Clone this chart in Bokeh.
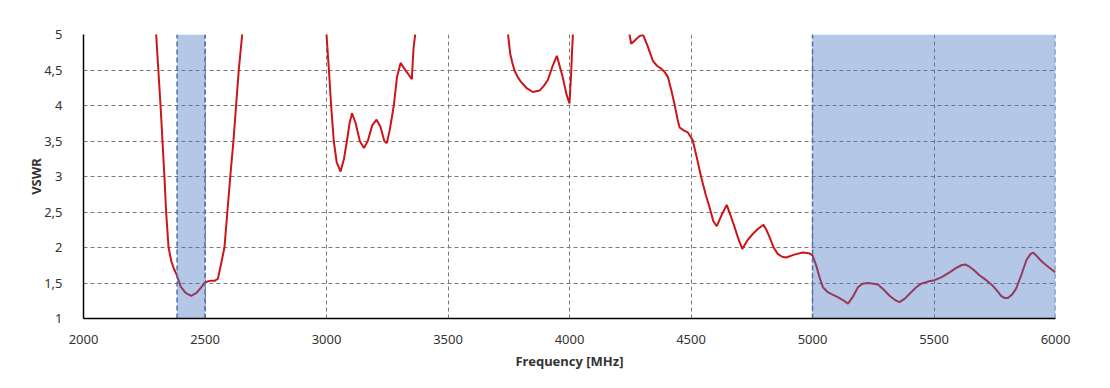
import math
from bokeh.plotting import figure
from bokeh.models import FixedTicker
from bokeh.embed import file_html
from bokeh.resources import INLINE

NaN = float("nan")

# Frequency (MHz) / VSWR; NaN separates parts above the plotted range
freq = [
    2295, 2299, 2308, 2317, 2325, 2333, 2340, 2350, 2362, 2372, 2383, 2400, 2420, 2443, 2465, 2485,
    2500, 2520, 2540, 2553, 2565, 2580, 2592, 2604, 2617, 2628, 2639, 2653, 2657, NaN,
    2998, 3000, 3010, 3019, 3030, 3042, 3058, 3072, 3084, 3095, 3105, 3120, 3137, 3154, 3170, 3188,
    3206, 3222, 3238, 3248, 3260, 3277, 3290, 3305, 3320, 3335, 3351, 3358, 3365, 3368, NaN,
    3744, 3747, 3752, 3756, 3765, 3774, 3787, 3801, 3825, 3849, 3877, 3895, 3911, 3930, 3948, 3960,
    3972, 3988, 4000, 4006, 4011, 4014, 4015, NaN,
    4245, 4247, 4254, 4270, 4285, 4302, 4320, 4343, 4360, 4377, 4392, 4405, 4420, 4432, 4445, 4453,
    4470, 4487, 4500, 4507, 4525, 4542, 4560, 4576, 4592, 4606, 4625, 4647, 4663, 4679, 4695, 4711,
    4732, 4754, 4775, 4798, 4810, 4823, 4840, 4857, 4875, 4892, 4925, 4960, 4985, 5000, 5015, 5029,
    5043, 5063, 5080, 5104, 5125, 5146, 5165, 5187, 5205, 5228, 5250, 5269, 5295, 5317, 5340, 5358,
    5380, 5406, 5427, 5447, 5475, 5502, 5530, 5564, 5590, 5612, 5630, 5646, 5665, 5687, 5715, 5742,
    5760, 5776, 5790, 5804, 5822, 5838, 5860, 5880, 5895, 5907, 5920, 5928, 5945, 5962, 5980, 6000,
]
vswr = [
    5.2, 5.0, 4.5, 4.0, 3.5, 3.0, 2.5, 2.0, 1.8, 1.7, 1.62, 1.45, 1.36, 1.32, 1.36, 1.44,
    1.51, 1.53, 1.53, 1.56, 1.75, 2.0, 2.5, 3.0, 3.5, 4.0, 4.5, 5.0, 5.2, NaN,
    5.2, 5.0, 4.5, 4.0, 3.5, 3.2, 3.07, 3.25, 3.5, 3.75, 3.89, 3.75, 3.5, 3.40, 3.5, 3.72,
    3.80, 3.7, 3.5, 3.47, 3.65, 4.0, 4.4, 4.60, 4.52, 4.45, 4.37, 4.8, 5.0, 5.2, NaN,
    5.2, 5.0, 4.85, 4.73, 4.6, 4.49, 4.4, 4.33, 4.24, 4.19, 4.21, 4.28, 4.36, 4.55, 4.70, 4.55,
    4.40, 4.15, 4.03, 4.4, 4.8, 5.0, 5.2, NaN,
    5.2, 5.0, 4.87, 4.92, 4.97, 5.0, 4.85, 4.63, 4.56, 4.52, 4.47, 4.40, 4.2, 4.02, 3.8, 3.69,
    3.65, 3.62, 3.55, 3.51, 3.25, 2.99, 2.75, 2.57, 2.37, 2.30, 2.45, 2.60, 2.45, 2.29, 2.12, 1.98,
    2.10, 2.19, 2.26, 2.32, 2.25, 2.15, 2.0, 1.91, 1.87, 1.86, 1.90, 1.93, 1.92, 1.89, 1.75, 1.58,
    1.44, 1.37, 1.34, 1.30, 1.26, 1.21, 1.30, 1.44, 1.49, 1.50, 1.49, 1.48, 1.40, 1.32, 1.26, 1.23,
    1.28, 1.37, 1.44, 1.49, 1.52, 1.54, 1.58, 1.65, 1.71, 1.75, 1.76, 1.73, 1.68, 1.61, 1.54, 1.46,
    1.39, 1.32, 1.29, 1.29, 1.34, 1.42, 1.62, 1.82, 1.90, 1.93, 1.89, 1.86, 1.80, 1.75, 1.70, 1.65,
]

band_start = [2385, 5000]
band_end = [2500, 6000]

x_ticks = [2000, 2500, 3000, 3500, 4000, 4500, 5000, 5500, 6000]
y_ticks = [1, 1.5, 2, 2.5, 3, 3.5, 4, 4.5, 5]
y_tick_labels = ["1", "1,5", "2", "2,5", "3", "3,5", "4", "4,5", "5"]

p = figure(width=1094, height=372, x_range=(2000, 6000), y_range=(1, 5),
           output_backend="svg", toolbar_location=None,
           min_border_left=83, min_border_right=39, min_border_top=34, min_border_bottom=54)
p.outline_line_color = None
p.background_fill_color = "white"
p.border_fill_color = "white"

# grids
for g in (p.xgrid, p.ygrid):
    g.grid_line_color = "#7a7a7a"
    g.grid_line_dash = "4 3"
    g.grid_line_width = 1
p.xgrid.ticker = FixedTicker(ticks=x_ticks)
p.ygrid.ticker = FixedTicker(ticks=y_ticks)

# axes
p.xaxis.ticker = FixedTicker(ticks=x_ticks)
p.yaxis.ticker = FixedTicker(ticks=y_ticks)
p.yaxis.major_label_overrides = {t: s for t, s in zip(y_ticks, y_tick_labels)}
for ax in (p.xaxis, p.yaxis):
    ax.axis_line_color = "black"
    ax.axis_line_width = 1.5
    ax.major_tick_line_color = None
    ax.minor_tick_line_color = None
    ax.major_label_text_font = "Noto Sans"
    ax.major_label_text_font_size = "13px"
    ax.major_label_text_color = "#333333"
    ax.axis_label_text_font = "Noto Sans"
    ax.axis_label_text_font_size = "13px"
    ax.axis_label_text_font_style = "bold"
    ax.axis_label_text_color = "#333333"
p.xaxis.major_label_standoff = 10
p.yaxis.major_label_standoff = 15
p.xaxis.axis_label = "Frequency [MHz]"
p.yaxis.axis_label = "VSWR"
p.xaxis.axis_label_standoff = 5
p.yaxis.axis_label_standoff = -4

# curve
p.line(freq, vswr, line_color="#CC1518", line_width=2)

# shaded bands drawn over the curve
p.quad(left=band_start, right=band_end, bottom=1, top=5,
       fill_color="#4472C4", fill_alpha=0.4, line_color=None)
edges = band_start + band_end
p.segment(x0=edges, y0=[1] * len(edges), x1=edges, y1=[5] * len(edges),
          line_color="#4A6FB0", line_width=1.5, line_dash="5 3")

open("out.html", "w").write(file_html(p, INLINE))
